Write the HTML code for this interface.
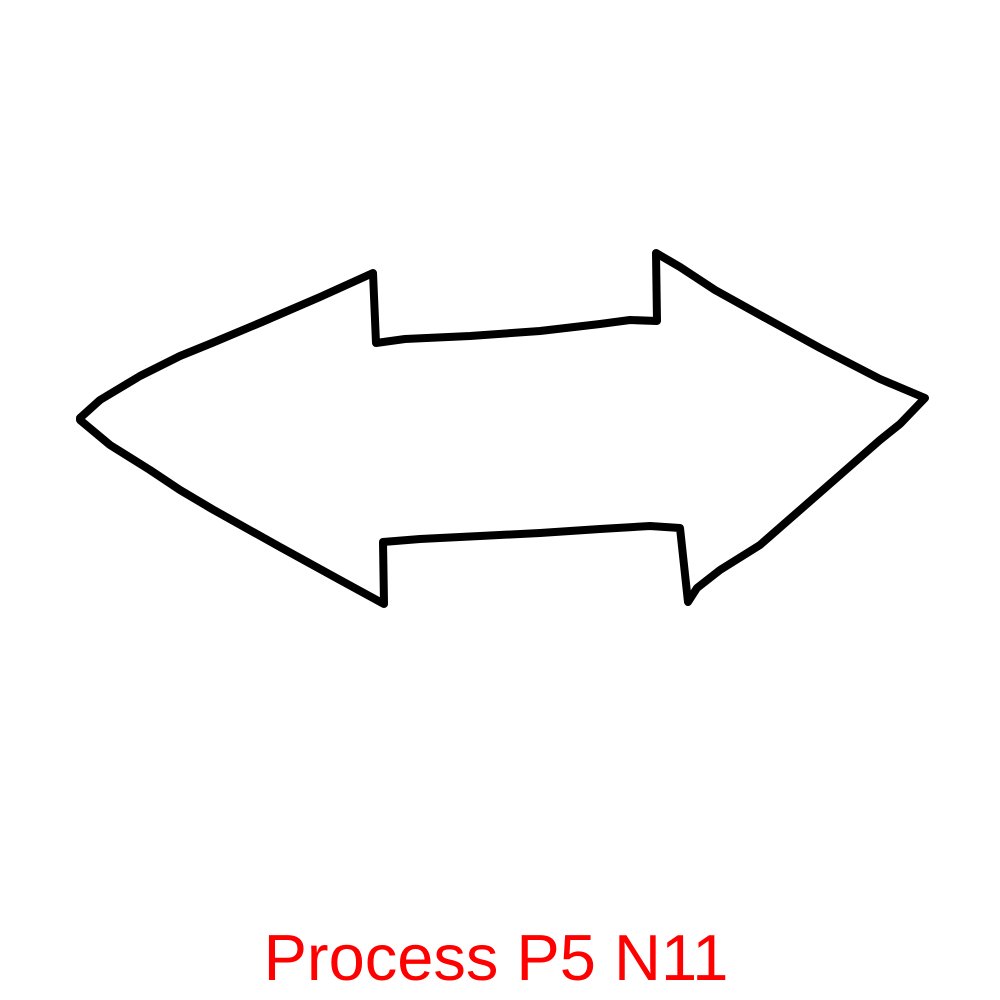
<!DOCTYPE html>
<html><head><meta charset="utf-8"><style>
html,body{margin:0;padding:0;background:#fff;width:1000px;height:1000px;overflow:hidden}
</style></head><body>
<svg width="1000" height="1000" viewBox="0 0 1000 1000">
<path fill="none" stroke="#000" stroke-width="8" stroke-linejoin="round" stroke-linecap="round"
d="M80,418 L100,400 L140,376 L180,356 L212,343 L262,322 L320,297 L373,273 L376,343 L405,339 L470,336 L540,331 L600,324 L630,320 L657,321 L656,253 L680,267 L715,290 L760,315 L820,348 L880,379 L925,398 L900,424 L880,440 L840,475 L800,510 L760,545 L720,570 L697,588 L688,602 L680,528 L650,526 L600,529 L540,533 L480,536 L420,539 L383,542 L384,604 L340,580 L280,547 L212,509 L180,490 L150,470 L110,445 L80,420 Z"/>
<text x="496" y="980" text-anchor="middle" font-family="Liberation Sans, sans-serif" font-size="65" fill="#ff0000">Process P5 N11</text>
</svg>
</body></html>
